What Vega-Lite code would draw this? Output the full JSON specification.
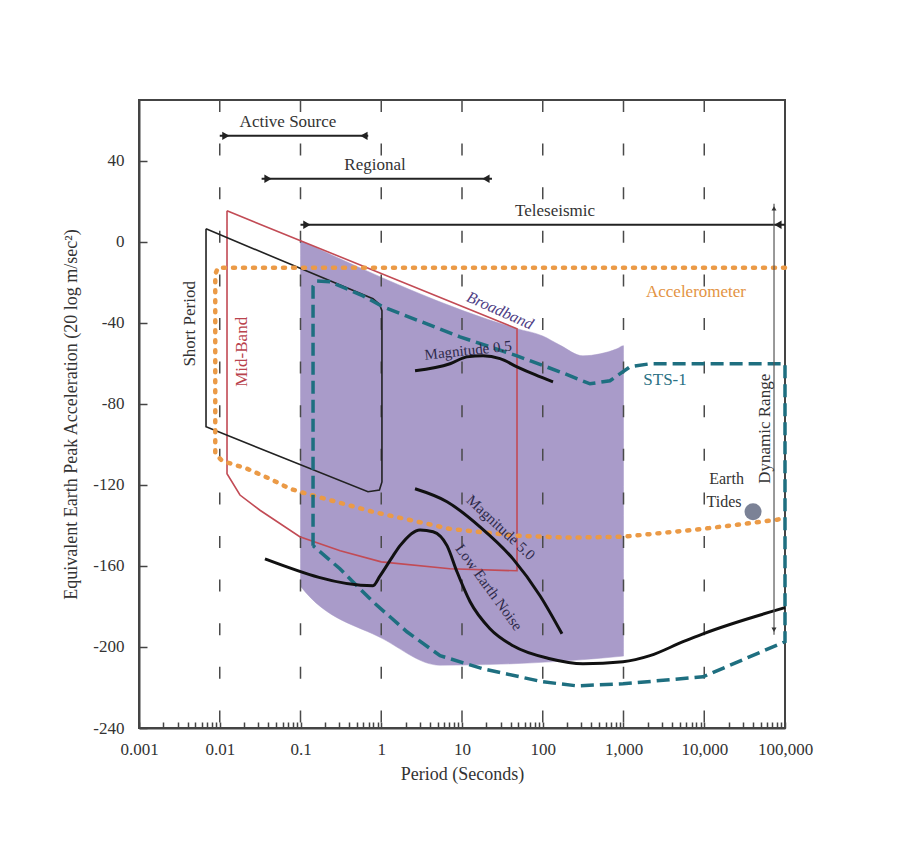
{
  "$schema": "https://vega.github.io/schema/vega-lite/v6.json",
  "width": 646,
  "height": 628,
  "autosize": "none",
  "padding": {"left": 139, "top": 100, "right": 114, "bottom": 136},
  "background": "#ffffff",
  "config": {
    "font": "Liberation Serif",
    "view": {"stroke": "#444444", "strokeWidth": 2}
  },
  "encoding": {
    "x": {
      "field": "p", "type": "quantitative",
      "scale": {"type": "log", "domain": [0.001, 100000], "nice": false},
      "axis": {
        "title": "Period (Seconds)",
        "titleFont": "Liberation Serif", "titleFontSize": 18, "titleFontWeight": "normal", "titleColor": "#333333", "titlePadding": 8,
        "labelFont": "Liberation Serif", "labelFontSize": 17, "labelColor": "#333333",
        "values": [0.001,0.002,0.003,0.004,0.005,0.006,0.007,0.008,0.009,0.01,0.02,0.03,0.04,0.05,0.06,0.07,0.08,0.09,0.1,0.2,0.3,0.4,0.5,0.6,0.7,0.8,0.9,1,2,3,4,5,6,7,8,9,10,20,30,40,50,60,70,80,90,100,200,300,400,500,600,700,800,900,1000,2000,3000,4000,5000,6000,7000,8000,9000,10000,20000,30000,40000,50000,60000,70000,80000,90000,100000],
        "labelExpr": "abs(log(datum.value)/LN10 - round(log(datum.value)/LN10)) < 0.001 ? format(datum.value, ',') : ''",
        "labelOverlap": false, "labelFlush": false,
        "tickSize": -6, "tickColor": "#444444", "tickWidth": 1.5,
        "labelPadding": 19,
        "domainColor": "#444444", "domainWidth": 2, "grid": false
      }
    },
    "y": {
      "field": "a", "type": "quantitative",
      "scale": {"domain": [-240, 70], "nice": false, "zero": false},
      "axis": {
        "title": "Equivalent Earth Peak Acceleration (20 log m/sec²)",
        "titleFont": "Liberation Serif", "titleFontSize": 18, "titleFontWeight": "normal", "titleColor": "#333333", "titlePadding": 12,
        "labelFont": "Liberation Serif", "labelFontSize": 17, "labelColor": "#333333",
        "values": [-240, -200, -160, -120, -80, -40, 0, 40],
        "labelExpr": "'' + datum.value",
        "tickSize": -8, "tickColor": "#444444", "tickWidth": 1.5,
        "labelPadding": 23,
        "domainColor": "#444444", "domainWidth": 2, "grid": false
      }
    }
  },
  "layer": [
    {
      "data": {"values": [
        {"i": 1, "p": 0.1, "a": 0.6},
        {"i": 2, "p": 48, "a": -42.9},
        {"i": 3, "p": 100, "a": -46.5},
        {"i": 4, "p": 163, "a": -51},
        {"i": 5, "p": 315, "a": -56.3},
        {"i": 6, "p": 512, "a": -55.3},
        {"i": 7, "p": 830, "a": -52.8},
        {"i": 8, "p": 1000, "a": -51.3},
        {"i": 9, "p": 1000, "a": -204.5},
        {"i": 10, "p": 5.3, "a": -209},
        {"i": 11, "p": 1.05, "a": -196},
        {"i": 12, "p": 0.1, "a": -170},
        {"i": 13, "p": 0.1, "a": 0.6}
      ]},
      "mark": {"type": "line", "fill": "#a99bc9", "stroke": "#a99bc9", "strokeWidth": 0.5, "interpolate": "monotone"},
      "encoding": {"order": {"field": "i"}}
    },
    {
      "data": {"values": [
        {"p": 0.01, "a": 70, "a2": -240},
        {"p": 0.1, "a": 70, "a2": -240},
        {"p": 1, "a": 70, "a2": -240},
        {"p": 10, "a": 70, "a2": -240},
        {"p": 100, "a": 70, "a2": -240},
        {"p": 1000, "a": 70, "a2": -240},
        {"p": 10000, "a": 70, "a2": -240}
      ]},
      "mark": {"type": "rule", "color": "#4a4a4a", "strokeWidth": 1.5, "strokeDash": [12, 31.6]},
      "encoding": {"y2": {"field": "a2"}}
    },
    {
      "data": {"values": [
        {"i": 1, "p": 0.0123, "a": 15.3},
        {"i": 2, "p": 48, "a": -42.9},
        {"i": 3, "p": 48, "a": -162.4},
        {"i": 4, "p": 7.1, "a": -161.4},
        {"i": 5, "p": 1.0, "a": -158},
        {"i": 6, "p": 0.31, "a": -152.5},
        {"i": 7, "p": 0.098, "a": -145.6},
        {"i": 8, "p": 0.0315, "a": -132.5},
        {"i": 9, "p": 0.0178, "a": -125},
        {"i": 10, "p": 0.0123, "a": -114.5},
        {"i": 11, "p": 0.0123, "a": 15.3}
      ]},
      "mark": {"type": "line", "color": "#c24b55", "strokeWidth": 1.6},
      "encoding": {"order": {"field": "i"}}
    },
    {
      "data": {"values": [
        {"i": 1, "p": 0.00676, "a": 6.4},
        {"i": 2, "p": 0.79, "a": -28.1},
        {"i": 3, "p": 0.95, "a": -30.8},
        {"i": 4, "p": 1.02, "a": -34},
        {"i": 5, "p": 1.02, "a": -118.5},
        {"i": 6, "p": 0.95, "a": -122.5},
        {"i": 7, "p": 0.685, "a": -123.4},
        {"i": 8, "p": 0.00676, "a": -91.3},
        {"i": 9, "p": 0.00676, "a": 6.4}
      ]},
      "mark": {"type": "line", "color": "#222222", "strokeWidth": 1.6},
      "encoding": {"order": {"field": "i"}}
    },
    {
      "data": {"values": [
        {"i": 1, "p": 100000, "a": -12.8},
        {"i": 2, "p": 0.0095, "a": -12.8},
        {"i": 3, "p": 0.0088, "a": -16},
        {"i": 4, "p": 0.0088, "a": -104.6},
        {"i": 5, "p": 0.01067, "a": -108.1},
        {"i": 6, "p": 0.0217, "a": -112},
        {"i": 7, "p": 0.0419, "a": -117},
        {"i": 8, "p": 0.0741, "a": -121.9},
        {"i": 9, "p": 0.12, "a": -124.4},
        {"i": 10, "p": 0.79, "a": -133.3},
        {"i": 11, "p": 7.1, "a": -141.7},
        {"i": 12, "p": 48, "a": -145.1},
        {"i": 13, "p": 200, "a": -146},
        {"i": 14, "p": 986, "a": -145.6},
        {"i": 15, "p": 9660, "a": -141.7},
        {"i": 16, "p": 79600, "a": -137.2},
        {"i": 17, "p": 100000, "a": -136.2}
      ]},
      "mark": {"type": "line", "color": "#eb9a46", "strokeWidth": 4.5, "strokeDash": [2, 8], "strokeCap": "round"},
      "encoding": {"order": {"field": "i"}}
    },
    {
      "data": {"values": [
        {"i": 1, "p": 0.143, "a": -150},
        {"i": 2, "p": 0.143, "a": -22},
        {"i": 3, "p": 0.16, "a": -19.4},
        {"i": 4, "p": 0.232, "a": -19.7},
        {"i": 5, "p": 0.594, "a": -26.7},
        {"i": 6, "p": 1.052, "a": -32.1},
        {"i": 7, "p": 9.44, "a": -46.9},
        {"i": 8, "p": 48, "a": -56.3},
        {"i": 9, "p": 163.7, "a": -64.2},
        {"i": 10, "p": 385, "a": -70.1},
        {"i": 11, "p": 680, "a": -68.6},
        {"i": 12, "p": 1203, "a": -61.7},
        {"i": 13, "p": 2128, "a": -60.2},
        {"i": 14, "p": 100000, "a": -60.2},
        {"i": 15, "p": 100000, "a": -197.4},
        {"i": 16, "p": 9660, "a": -214.7},
        {"i": 17, "p": 986, "a": -218.2},
        {"i": 18, "p": 265, "a": -219.2},
        {"i": 19, "p": 100, "a": -217.2},
        {"i": 20, "p": 18.2, "a": -210.8},
        {"i": 21, "p": 5.35, "a": -204.3},
        {"i": 22, "p": 2.08, "a": -192.5},
        {"i": 23, "p": 0.79, "a": -177.7},
        {"i": 24, "p": 0.308, "a": -161.4},
        {"i": 25, "p": 0.143, "a": -150}
      ]},
      "mark": {"type": "line", "color": "#1e6f80", "strokeWidth": 3.5, "strokeDash": [13, 6]},
      "encoding": {"order": {"field": "i"}}
    },
    {
      "data": {"values": [
        {"i": 1, "p": 0.0363, "a": -156.5},
        {"i": 2, "p": 0.79, "a": -169.8},
        {"i": 3, "p": 0.966, "a": -164.9},
        {"i": 4, "p": 1.4, "a": -155},
        {"i": 5, "p": 1.71, "a": -150},
        {"i": 6, "p": 3.02, "a": -142.2},
        {"i": 7, "p": 4.38, "a": -143.1},
        {"i": 8, "p": 6.52, "a": -150},
        {"i": 9, "p": 8.67, "a": -162.9},
        {"i": 10, "p": 12.6, "a": -177.7},
        {"i": 11, "p": 22.2, "a": -191},
        {"i": 12, "p": 42.8, "a": -199.4},
        {"i": 13, "p": 123, "a": -205.8},
        {"i": 14, "p": 315, "a": -208.3},
        {"i": 15, "p": 986, "a": -207.3},
        {"i": 16, "p": 2128, "a": -204.3},
        {"i": 17, "p": 5460, "a": -197.4},
        {"i": 18, "p": 9660, "a": -193.5},
        {"i": 19, "p": 100000, "a": -180.6}
      ]},
      "mark": {"type": "line", "color": "#111111", "strokeWidth": 3, "interpolate": "monotone"},
      "encoding": {"order": {"field": "i"}}
    },
    {
      "data": {"values": [
        {"i": 1, "p": 2.62, "a": -121.9},
        {"i": 2, "p": 6.52, "a": -128.3},
        {"i": 3, "p": 16.7, "a": -140.7},
        {"i": 4, "p": 42.8, "a": -156.5},
        {"i": 5, "p": 92.5, "a": -174.7},
        {"i": 6, "p": 173, "a": -193.5}
      ]},
      "mark": {"type": "line", "color": "#111111", "strokeWidth": 3, "interpolate": "monotone"},
      "encoding": {"order": {"field": "i"}}
    },
    {
      "data": {"values": [
        {"i": 1, "p": 2.62, "a": -63.7},
        {"i": 2, "p": 7.1, "a": -60.2},
        {"i": 3, "p": 11.5, "a": -56.8},
        {"i": 4, "p": 18.2, "a": -56.3},
        {"i": 5, "p": 29.6, "a": -57.7},
        {"i": 6, "p": 48, "a": -61.7},
        {"i": 7, "p": 80.2, "a": -65.6},
        {"i": 8, "p": 134, "a": -69.1}
      ]},
      "mark": {"type": "line", "color": "#111111", "strokeWidth": 3, "interpolate": "monotone"},
      "encoding": {"order": {"field": "i"}}
    },
    {
      "data": {"values": [
        {"p": 0.01, "p2": 0.69, "a": 52.3},
        {"p": 0.033, "p2": 23.5, "a": 31.1},
        {"p": 0.1, "p2": 100000, "a": 8.4}
      ]},
      "mark": {"type": "rule", "color": "#222222", "strokeWidth": 2},
      "encoding": {"x2": {"field": "p2"}}
    },
    {
      "data": {"values": [
        {"p": 73100, "a": 18.8, "a2": -194}
      ]},
      "mark": {"type": "rule", "color": "#555555", "strokeWidth": 1.2},
      "encoding": {"y2": {"field": "a2"}}
    },
    {
      "data": {"values": [
        {"p": 0.0119, "a": 52.3},
        {"p": 0.0396, "a": 31.1},
        {"p": 0.12, "a": 8.4}
      ]},
      "mark": {"type": "point", "shape": "triangle-right", "filled": true, "color": "#222222", "size": 70, "opacity": 1}
    },
    {
      "data": {"values": [
        {"p": 0.61, "a": 52.3},
        {"p": 19.8, "a": 31.1},
        {"p": 81800, "a": 8.4}
      ]},
      "mark": {"type": "point", "shape": "triangle-left", "filled": true, "color": "#222222", "size": 70, "opacity": 1}
    },
    {
      "data": {"values": [{"p": 73100, "a": 16.5}]},
      "mark": {"type": "point", "shape": "triangle-up", "filled": true, "color": "#333333", "size": 25, "opacity": 1}
    },
    {
      "data": {"values": [{"p": 73100, "a": -191.5}]},
      "mark": {"type": "point", "shape": "triangle-down", "filled": true, "color": "#333333", "size": 25, "opacity": 1}
    },
    {
      "data": {"values": [{"p": 40200, "a": -133.3}]},
      "mark": {"type": "point", "shape": "circle", "filled": true, "color": "#7b8296", "size": 290, "opacity": 1}
    },
    {
      "data": {"values": [
        {"p": 0.07, "a": 59.2, "t": "Active Source"},
        {"p": 0.838, "a": 38, "t": "Regional"},
        {"p": 142, "a": 15.3, "t": "Teleseismic"}
      ]},
      "mark": {"type": "text", "font": "Liberation Serif", "fontSize": 17, "color": "#333333", "align": "center", "baseline": "middle"},
      "encoding": {"text": {"field": "t"}}
    },
    {
      "data": {"values": [
        {"p": 18900, "a": -117, "t": "Earth"},
        {"p": 17600, "a": -128.3, "t": "Tides"}
      ]},
      "mark": {"type": "text", "font": "Liberation Serif", "fontSize": 16, "color": "#333333", "align": "center", "baseline": "middle"},
      "encoding": {"text": {"field": "t"}}
    },
    {
      "data": {"values": [{"p": 7900, "a": -24.7, "t": "Accelerometer"}]},
      "mark": {"type": "text", "font": "Liberation Serif", "fontSize": 17, "color": "#e39343", "align": "center", "baseline": "middle"},
      "encoding": {"text": {"field": "t"}}
    },
    {
      "data": {"values": [{"p": 3270, "a": -68.1, "t": "STS-1"}]},
      "mark": {"type": "text", "font": "Liberation Serif", "fontSize": 17, "color": "#2a7184", "align": "center", "baseline": "middle"},
      "encoding": {"text": {"field": "t"}}
    },
    {
      "data": {"values": [
        {"p": 0.00428, "a": -40.5, "t": "Short Period"},
        {"p": 56500, "a": -92.3, "t": "Dynamic Range"}
      ]},
      "mark": {"type": "text", "font": "Liberation Serif", "fontSize": 17, "color": "#333333", "align": "center", "baseline": "middle", "angle": 270},
      "encoding": {"text": {"field": "t"}}
    },
    {
      "data": {"values": [{"p": 0.0189, "a": -54.3, "t": "Mid-Band"}]},
      "mark": {"type": "text", "font": "Liberation Serif", "fontSize": 17, "color": "#b9434d", "align": "center", "baseline": "middle", "angle": 270},
      "encoding": {"text": {"field": "t"}}
    },
    {
      "data": {"values": [{"p": 29.6, "a": -34, "t": "Broadband"}]},
      "mark": {"type": "text", "font": "Liberation Serif", "fontSize": 16, "fontStyle": "italic", "color": "#4e3d84", "align": "center", "baseline": "middle", "angle": 24},
      "encoding": {"text": {"field": "t"}}
    },
    {
      "data": {"values": [{"p": 11.9, "a": -53.5, "t": "Magnitude 0.5"}]},
      "mark": {"type": "text", "font": "Liberation Serif", "fontSize": 15, "color": "#2e2a4a", "align": "center", "baseline": "middle", "angle": -6},
      "encoding": {"text": {"field": "t"}}
    },
    {
      "data": {"values": [{"p": 30.4, "a": -141, "t": "Magnitude 5.0"}]},
      "mark": {"type": "text", "font": "Liberation Serif", "fontSize": 15, "color": "#2e2a4a", "align": "center", "baseline": "middle", "angle": 43},
      "encoding": {"text": {"field": "t"}}
    },
    {
      "data": {"values": [{"p": 21.6, "a": -170.5, "t": "Low Earth Noise"}]},
      "mark": {"type": "text", "font": "Liberation Serif", "fontSize": 15, "color": "#2e2a4a", "align": "center", "baseline": "middle", "angle": 54},
      "encoding": {"text": {"field": "t"}}
    }
  ]
}
